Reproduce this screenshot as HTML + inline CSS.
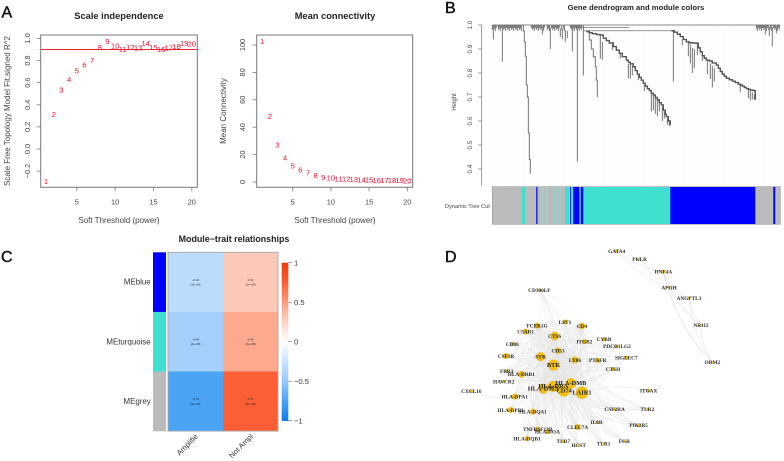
<!DOCTYPE html>
<html lang="en">
<head>
<meta charset="utf-8">
<title>WGCNA module analysis figure</title>
<style>
html,body{margin:0;padding:0;background:#fff;width:784px;height:461px;overflow:hidden}
svg{display:block;filter:blur(0.35px);font-family:"Liberation Sans",sans-serif}
.t{fill:#222;font-weight:bold;text-anchor:middle}
.a{fill:#444;font-size:7.4px;text-anchor:middle}
.at{fill:#444;font-size:8px;text-anchor:middle}
.p{fill:#111;font-size:16px;stroke:#111;stroke-width:.45px}
</style>
</head>
<body>
<svg id="fig" xmlns="http://www.w3.org/2000/svg" width="784" height="461" viewBox="0 0 784 461">
<rect width="784" height="461" fill="#fff"/>
<text class="p" x="1.5" y="17.5">A</text>
<text class="p" x="445" y="13">B</text>
<text class="p" x="1" y="262">C</text>
<text class="p" x="445" y="262">D</text>
<text class="t" x="119" y="19" font-size="9.3">Scale independence</text>
<text class="at" x="119" y="223">Soft Threshold (power)</text>
<text class="at" transform="translate(10 111) rotate(-90)">Scale Free Topology Model Fit,signed R^2</text>
<text class="t" x="335" y="19" font-size="9.3">Mean connectivity</text>
<text class="at" x="335" y="223">Soft Threshold (power)</text>
<text class="at" transform="translate(226 111) rotate(-90)">Mean Connectivity</text>
<text class="t" x="636" y="10" font-size="7.7">Gene dendrogram and module colors</text>
<text class="a" style="font-size:6px" transform="translate(456 102) rotate(-90)">Height</text>
<text class="a" style="font-size:5.6px;text-anchor:start" x="445" y="208">Dynamic Tree Cut</text>
<text class="t" x="234" y="242" font-size="8.9">Module−trait relationships</text>
</svg>
<script>
// Panel A: scale independence
const powers = [1,2,3,4,5,6,7,8,9,10,11,12,13,14,15,16,17,18,19,20];
const fitValues = [-0.29,0.316,0.536,0.63,0.708,0.76,0.80,0.92,0.976,0.934,0.90,0.92,0.913,0.956,0.92,0.90,0.915,0.93,0.956,0.953];
const fitTicks = [-0.2,0,0.2,0.4,0.6,0.8,1];
const fitTickLabels = ['−0.2','0.0','0.2','0.4','0.6','0.8','1.0'];
const fitThreshold = 0.9;
const powerTicks = [5,10,15,20];
// Panel A: mean connectivity
const connectivityValues = [102.7,47.9,27.2,17.5,11.9,8.8,6.6,4.9,3.6,2.9,2.4,2.2,1.9,1.5,1.5,1.3,1.3,1.1,1.1,0.9];
const connectivityTicks = [0,20,40,60,80,100];
// Panel B: dendrogram, in leaf index and merge height
const heightTicks = [0.4,0.5,0.6,0.7,0.8,0.9,1.0];
const treeStubs = [[1,1,0.94],[10,1,0.847],[50,0.995,0.96],[58,0.99,0.90],[70,0.985,0.94],[73,0.98,0.93],[75,0.975,0.945],[68,0.985,0.95],[80,1,0.89],[85,1,0.43],[91,1,0.79],[108,0.958,0.86],[110,0.93,0.855],[181,0.976,0.764],[273,1,0.96],[280,0.99,0.91],[284,0.995,0.965],[277,0.99,0.955]];
const treeSpine = [[30,1],[31,0.975],[32,0.93],[33,0.87],[34,0.75],[35,0.70],[36,0.64],[36,0.55],[37,0.44],[38,0.38]];
const sideChain = [[95,0.975],[97,0.9375],[99,0.90],[101,0.868],[103,0.826],[104,0.77],[105,0.70]];
const combLeaves = [0,2,3,4,6,7,8,9,11,12,13,14,15,16,17,18,19,20,21,22,23,24,25,26,27,28,29,39,40,41,42,43,44,45,46,47,48,49,51,52,55,56,57,59,60,61,62,63,64,65,66,67,69,71,72,78,79,81,82,83,84,86,87,88,89,264,265,266,267,268,269,270,271,272,274,275,276,278,279,281,282,283,285,286,287];
const combDepths = [0.02,0.015,0.025,0.012];
const branchOne = [[94,0.972],[97,0.968],[100,0.964],[104,0.96],[108,0.958],[111,0.945],[114,0.935],[117,0.925],[121,0.91],[124,0.895],[127,0.882],[130,0.868],[134,0.854],[136,0.845],[138,0.838],[141,0.826],[143,0.81],[145,0.795],[147,0.782],[149,0.77],[151,0.757],[153,0.745],[155,0.735],[157,0.727],[159,0.716],[161,0.708],[163,0.698],[165,0.688],[167,0.677],[169,0.667],[171,0.645],[173,0.628],[174,0.618],[176,0.60],[178,0.583]];
const branchOneStubs = [[136,0.838,0.778],[138,0.838,0.776],[140,0.83,0.79],[159,0.716,0.64],[161,0.708,0.645],[163,0.70,0.63],[165,0.69,0.62],[167,0.68,0.64],[170,0.66,0.60],[172,0.64,0.61],[175,0.61,0.585],[177,0.60,0.578],[152,0.75,0.725],[146,0.79,0.77],[128,0.88,0.86],[120,0.92,0.895]];
const branchTwo = [[179,0.976],[182,0.97],[185,0.962],[188,0.952],[191,0.94],[194,0.93],[197,0.926],[200,0.925],[204,0.924],[206,0.905],[208,0.888],[210,0.872],[212,0.862],[214,0.854],[217,0.85],[220,0.842],[224,0.833],[226,0.82],[228,0.806],[230,0.795],[232,0.786],[234,0.778],[237,0.772],[240,0.766],[243,0.76],[246,0.754],[248,0.75],[250,0.745],[252,0.74],[254,0.735],[256,0.732],[258,0.729],[260,0.728],[262,0.725],[263,0.6875]];
const branchTwoStubs = [[196,0.93,0.87],[198,0.92,0.84],[200,0.905,0.80],[202,0.90,0.82],[205,0.92,0.875],[215,0.85,0.795],[218,0.84,0.775],[220,0.83,0.74],[222,0.82,0.765],[248,0.75,0.72],[256,0.73,0.695],[258,0.725,0.685],[260,0.72,0.69],[262,0.71,0.69],[190,0.94,0.915],[210,0.87,0.85]];
const treeBars = [[84,137,0.989],[91,179,0.976]];
const moduleStarts = [0,29.7,33,43.7,45.4,49.4,51,53.7,55,61,63,66,68,72.7,77,77.7,78.7,81,87,88.5,91,92];
const moduleColors = ['#bbbbbb','#40e0d0','#bbbbbb','#2a35e0','#bbbbbb','#a8cfcb','#bbbbbb','#a8cfcb','#bbbbbb','#8fd3cc','#bbbbbb','#8fd3cc','#bbbbbb','#40e0d0','#bbbbbb','#2a35e0','#40e0d0','#0000ff','#40c8e0','#0000ff','#40e0d0'];
const largeModules = [[92,178,'#40e0d0'],[178,263,'#0000ff'],[263,281,'#bbbbbb'],[281,283,'#0000ff'],[283,288,'#bbbbbb']];
// Panel C: module-trait correlations
const heatRows = ['MEblue','MEturquoise','MEgrey'];
const heatRowColors = ['#0000ff','#40e0d0','#bbbbbb'];
const heatTraits = ['Amplifie','Not Ampl'];
const heatValues = [[-0.31,0.31],[-0.44,0.44],[-0.75,0.75]];
const heatPvalues = [['(1e−04)','(1e−04)'],['(2e−08)','(2e−08)'],['(9e−28)','(9e−28)']];
const legendTicks = [-1,-0.5,0,0.5,1];
const legendLabels = ['−1','−0.5','0','0.5','1'];
const scaleStops = [-1,-0.75,-0.44,-0.31,0,0.31,0.44,0.75,1];
const scaleColors = [[10,125,232],[74,163,245],[164,208,251],[188,220,251],[255,255,255],[252,200,184],[252,169,143],[251,95,53],[240,58,16]];
// Panel D: network, node name, layout x, layout y, node size
const netNodes = [['CD300LF',298,150,1.2],['FCER1G',291,257,3],['LST1',375,246,2.5],['CD4',426,258,3.2],['C5AR1',257,275,3],['CTSS',344,288,4.2],['ITGB2',433,305,2.5],['CYBB',492,298,2],['CD86',217,312,2],['PDCD1LG2',531,319,1.5],['CD53',354,332,3.2],['CSF1R',198,348,3],['SYK',302,350,4.5],['LY86',405,360,3.5],['PTAFR',473,361,2.5],['SIGLEC7',559,353,2],['BTK',341,375,5.5],['CTSH',519,387,2],['FBR3',200,393,1.5],['HLA-DRB1',244,403,3.5],['HAVCR2',191,425,1.5],['HLA-DMB',393,430,5.2],['HLA-DRA',340,439,5.5],['HLA-DMA',310,446,5],['CD74',372,452,6],['LAIR1',426,458,6.2],['HLA-DPA1',224,470,3],['HLA-DPB1',212,510,3],['HLA-DQA1',279,515,3],['CSF2RA',524,508,1.5],['TNFRSF13B',293,568,2.5],['HLA-DOA',322,575,2.5],['CLEC7A',413,561,3],['IL8R',470,547,1.5],['HLA-DQB1',261,596,2.5],['TLR7',370,603,1.5],['HCST',416,616,1.2],['TLR1',491,611,1.2],['FGR',553,603,1.2],['PIK3R5',596,556,1.5],['TLR2',622,507,1.2],['ITGAX',626,452,1.8],['CXCL16',94,454,1.5],['GATA4',530,33,1.5],['PKLR',599,57,1.2],['HNF4A',670,95,1.6],['APOH',687,143,1.2],['ANGPTL3',747,174,1.2],['NR1I2',783,255,1],['ORM2',817,367,1]];
const netHubs = ['LAIR1','CD74','HLA-DMB','HLA-DRA','HLA-DMA','BTK','SYK','CTSS','CD53','LY86','CD4','FCER1G'];
const netMembers = ['CD300LF','FCER1G','LST1','CD4','C5AR1','CTSS','ITGB2','CYBB','CD86','PDCD1LG2','CD53','CSF1R','SYK','LY86','PTAFR','SIGLEC7','BTK','CTSH','FBR3','HLA-DRB1','HAVCR2','HLA-DMB','HLA-DRA','HLA-DMA','CD74','LAIR1','HLA-DPA1','HLA-DPB1','HLA-DQA1','CSF2RA','TNFRSF13B','HLA-DOA','CLEC7A','IL8R','HLA-DQB1','TLR7','HCST','TLR1','FGR','PIK3R5','TLR2'];
const netExtraEdges = [['CXCL16','HLA-DPA1'],['ITGAX','LAIR1'],['GATA4','HNF4A'],['GATA4','APOH'],['PKLR','HNF4A'],['PKLR','APOH'],['HNF4A','APOH'],['HNF4A','ANGPTL3'],['HNF4A','NR1I2'],['APOH','ANGPTL3'],['APOH','ORM2'],['APOH','NR1I2'],['ANGPTL3','ORM2'],['ANGPTL3','NR1I2'],['NR1I2','ORM2'],['HNF4A','ORM2']];

const NS = 'http://www.w3.org/2000/svg';
const fig = document.getElementById('fig');
function mk(tag, attrs, parent) {
  const el = document.createElementNS(NS, tag);
  for (const k in attrs) el.setAttribute(k, attrs[k]);
  (parent || fig).appendChild(el);
  return el;
}

// Scatter panels
function scatterPanel(name, box, xScale, yScale, yValues, yTicks, yLabels, tickX) {
  const g = mk('g', {});
  
  
  const frame = mk('rect', {x: box[0], y: box[1], width: box[2]-box[0], height: box[3]-box[1], fill: 'none', stroke: '#777', 'stroke-width': 1}, g);
  
  
  powerTicks.forEach(function (v) {
    const tick = mk('line', {x1: xScale(v), x2: xScale(v), y1: box[3], y2: box[3]+4, stroke: '#777', 'stroke-width': 0.8}, g);
    
    
    const lab = mk('text', {x: xScale(v), y: 204.5, class: 'a'}, g);
    lab.textContent = v;
    
    
  });
  yTicks.forEach(function (v, i) {
    const tick = mk('line', {x1: box[0]-4, x2: box[0], y1: yScale(v), y2: yScale(v), stroke: '#777', 'stroke-width': 0.8}, g);
    
    
    const lab = mk('text', {class: 'a', transform: 'translate(' + tickX + ' ' + yScale(v) + ') rotate(-90)'}, g);
    lab.textContent = yLabels[i];
    
    
  });
  powers.forEach(function (p, i) {
    const pt = mk('text', {x: xScale(p), y: yScale(yValues[i]) + 2.7, 'font-size': 7.7, fill: '#ee1030', 'text-anchor': 'middle'}, g);
    pt.textContent = p;
    
    
  });
  return g;
}
const fitX = function (v) { return 38.4 + v * 7.67; };
const fitY = function (v) { return 149 - v * 110.6; };
const fitPanel = scatterPanel('scale-independence', [40.7,35,197.3,187.3], fitX, fitY, fitValues, fitTicks, fitTickLabels, 30);
const thresholdLine = mk('line', {x1: 40.7, x2: 197.3, y1: fitY(fitThreshold), y2: fitY(fitThreshold), stroke: '#e8202e', 'stroke-width': 1}, fitPanel);


const conX = function (v) { return 254.5 + v * 7.64; };
const conY = function (v) { return 182 - v * 1.37; };
scatterPanel('mean-connectivity', [256.7,35,412.7,187.3], conX, conY, connectivityValues, connectivityTicks, connectivityTicks, 245);

// Dendrogram
const leafX = function (v) { return 492.3 + v; };
const treeY = function (v) { return 25 + (1 - v) * 240; };
const tree = mk('g', {});


for (let i = 0; i < 58; i++) {
  const guide = mk('line', {x1: 494 + i * 5, x2: 494 + i * 5, y1: 27, y2: 186, stroke: '#e6e6e6', 'stroke-width': 0.5, 'stroke-dasharray': '1 1'}, tree);
  
  
}
const treeAxis = mk('line', {x1: 481.7, x2: 481.7, y1: treeY(1), y2: 185.7, stroke: '#777', 'stroke-width': 0.7}, tree);


heightTicks.forEach(function (v) {
  const tick = mk('line', {x1: 478, x2: 481.7, y1: treeY(v), y2: treeY(v), stroke: '#777', 'stroke-width': 0.7}, tree);
  
  
  const lab = mk('text', {class: 'a', style: 'font-size:6.4px', transform: 'translate(472 ' + treeY(v) + ') rotate(-90)'}, tree);
  lab.textContent = v.toFixed(1);
  
  
});
const treeTop = mk('line', {x1: leafX(0), x2: leafX(288), y1: treeY(1), y2: treeY(1), stroke: '#888', 'stroke-width': 1}, tree);


function stepPath(points) {
  let d = 'M' + leafX(points[0][0]) + ' ' + treeY(points[0][1]);
  for (let i = 1; i < points.length; i++) {
    d += 'H' + leafX(points[i][0]) + 'V' + treeY(points[i][1]);
  }
  return d;
}
function drawStub(s, parent, label) {
  const stub = mk('line', {x1: leafX(s[0]), x2: leafX(s[0]), y1: treeY(s[1]), y2: treeY(s[2]), stroke: '#666', 'stroke-width': 0.9}, parent);
  
  
}
combLeaves.forEach(function (leaf, i) {
  drawStub([leaf, 1, 1 - combDepths[i % combDepths.length]], tree, 'dendrogram-top-leaf');
});
treeStubs.forEach(function (s) { drawStub(s, tree, 'dendrogram-branch'); });
branchOneStubs.forEach(function (s) { drawStub(s, tree, 'turquoise-branch-leaf'); });
branchTwoStubs.forEach(function (s) { drawStub(s, tree, 'blue-branch-leaf'); });
treeBars.forEach(function (b) {
  const bar = mk('line', {x1: leafX(b[0]), x2: leafX(b[1]), y1: treeY(b[2]), y2: treeY(b[2]), stroke: '#777', 'stroke-width': 0.7}, tree);
  
  
});
const spine = mk('path', {d: stepPath(treeSpine), fill: 'none', stroke: '#666', 'stroke-width': 0.9}, tree);


const side = mk('path', {d: stepPath(sideChain), fill: 'none', stroke: '#666', 'stroke-width': 0.9}, tree);


const b1 = mk('path', {d: stepPath(branchOne), fill: 'none', stroke: '#555', 'stroke-width': 1.4}, tree);


const b2 = mk('path', {d: stepPath(branchTwo), fill: 'none', stroke: '#555', 'stroke-width': 1.4}, tree);



// Module colour band
const band = mk('g', {});


moduleColors.forEach(function (c, i) {
  const r = mk('rect', {x: leafX(moduleStarts[i]), y: 187, width: moduleStarts[i+1] - moduleStarts[i] + 0.2, height: 37, fill: c}, band);
  
  
});
largeModules.forEach(function (m) {
  const r = mk('rect', {x: leafX(m[0]), y: 187, width: m[1] - m[0] + 0.2, height: 37, fill: m[2]}, band);
  
  
});
const bandTop = mk('rect', {x: leafX(0), y: 186.6, width: 288, height: 37.8, fill: 'none', stroke: '#999', 'stroke-width': 0.6}, band);



// Heatmap
function scaleColor(v) {
  let i = 0;
  while (i < scaleStops.length - 2 && v > scaleStops[i+1]) i++;
  const f = (v - scaleStops[i]) / (scaleStops[i+1] - scaleStops[i]);
  const c = scaleColors[i].map(function (a, k) { return Math.round(a + (scaleColors[i+1][k] - a) * f); });
  return 'rgb(' + c.join(',') + ')';
}
const heat = mk('g', {});


const heatTop = 252.3, rowH = 59.6, heatLeft = 168, colW = 55;
heatRows.forEach(function (row, r) {
  const y = heatTop + r * rowH;
  const swatch = mk('rect', {x: 153, y: y, width: 13, height: rowH + 0.2, fill: heatRowColors[r]}, heat);
  
  
  const lab = mk('text', {x: 150.7, y: y + rowH / 2 + 2.6, 'font-size': 7.9, fill: '#333', 'text-anchor': 'end'}, heat);
  lab.textContent = row;
  
  
  heatTraits.forEach(function (trait, c) {
    const v = heatValues[r][c];
    const x = heatLeft + c * colW;
    const cell = mk('rect', {x: x, y: y, width: colW + 0.2, height: rowH + 0.2, fill: scaleColor(v)}, heat);
    
    
    const t1 = mk('text', {x: x + colW / 2, y: y + 28.5, 'font-size': 2.9, fill: '#223', 'text-anchor': 'middle'}, heat);
    t1.textContent = String(v).replace('-', '−');
    
    
    const t2 = mk('text', {x: x + colW / 2, y: y + 33.3, 'font-size': 2.9, fill: '#223', 'text-anchor': 'middle'}, heat);
    t2.textContent = heatPvalues[r][c];
    
    
  });
});
const heatFrame = mk('rect', {x: heatLeft, y: heatTop, width: colW * 2, height: rowH * 3, fill: 'none', stroke: '#aaa', 'stroke-width': 0.9}, heat);


heatTraits.forEach(function (trait, c) {
  const lab = mk('text', {'font-size': 7.5, fill: '#333', 'text-anchor': 'end', transform: 'translate(' + (heatLeft + colW * (c + 0.5) + 3) + ' 437) rotate(-45)'}, heat);
  lab.textContent = trait;
  
  
});
const legY = function (v) { return 341.7 - v * 79; };
for (let i = 0; i < 100; i++) {
  const v = -1 + i * 0.02;
  const seg = mk('rect', {x: 281.7, y: legY(v + 0.02), width: 6.6, height: 1.9, fill: scaleColor(v + 0.01)}, heat);
  
  
}
legendTicks.forEach(function (v, i) {
  const tick = mk('line', {x1: 288.3, x2: 292, y1: legY(v), y2: legY(v), stroke: '#666', 'stroke-width': 0.6}, heat);
  
  
  const lab = mk('text', {x: 294, y: legY(v) + 2.7, 'font-size': 7.6, fill: '#333'}, heat);
  lab.textContent = legendLabels[i];
  
  
});

// Network
const netX = function (v) { return 440 + v / 3; };
const netY = function (v) { return 240 + v / 3; };
const nodeOf = {};
netNodes.forEach(function (n) { nodeOf[n[0]] = n; });
const net = mk('g', {});


function drawEdge(a, b, bend, color, width) {
  const n1 = nodeOf[a], n2 = nodeOf[b];
  const x1 = netX(n1[1]), y1 = netY(n1[2]), x2 = netX(n2[1]), y2 = netY(n2[2]);
  const mx = (x1 + x2) / 2 - (y2 - y1) * bend, my = (y1 + y2) / 2 + (x2 - x1) * bend;
  const e = mk('path', {d: 'M' + x1.toFixed(1) + ' ' + y1.toFixed(1) + 'Q' + mx.toFixed(1) + ' ' + my.toFixed(1) + ' ' + x2.toFixed(1) + ' ' + y2.toFixed(1), fill: 'none', stroke: color, 'stroke-width': width}, net);
  
  
}
netHubs.forEach(function (h) {
  netMembers.forEach(function (m) {
    if (h !== m) drawEdge(h, m, 0.16, '#e0e0e0', 0.28);
  });
});
netExtraEdges.forEach(function (e) { drawEdge(e[0], e[1], 0.14, '#dcdcdc', 0.45); });
netNodes.forEach(function (n) {
  const c = mk('circle', {cx: netX(n[1]), cy: netY(n[2]), r: n[3], fill: '#f0bd10'}, net);
  
  
});
netNodes.forEach(function (n) {
  const size = n[3] >= 5 ? 6.4 : 5.3;
  const t = mk('text', {x: netX(n[1]), y: netY(n[2]) + 1.8, 'font-size': size, 'font-weight': 'bold', fill: '#2a2a2a', 'text-anchor': 'middle', style: 'font-family:"Liberation Serif",serif'}, net);
  t.textContent = n[0];
  
  
});
</script>
</body>
</html>
